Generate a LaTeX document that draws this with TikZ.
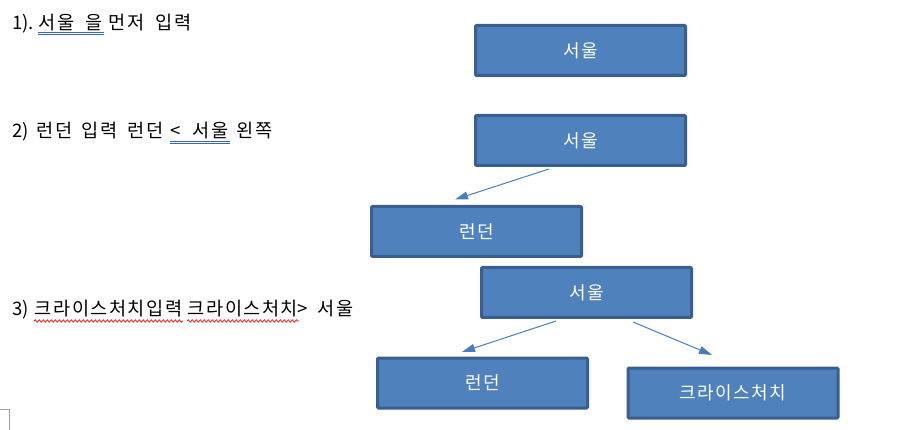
\documentclass[tikz,border=0pt]{standalone}
\usepackage{fontspec}
\setmainfont{Noto Sans CJK KR}
\usetikzlibrary{arrows.meta,decorations.pathmorphing}
\ExplSyntaxOn
\NewDocumentCommand\fw{m}{\tl_map_inline:nn{#1}{\makebox[1em][c]{##1}}}
\ExplSyntaxOff
\definecolor{boxfill}{HTML}{4F81BD}
\definecolor{boxline}{HTML}{3A5F8F}
\definecolor{arrowc}{HTML}{4A7EBB}
\definecolor{dblblue}{HTML}{3366CC}
\definecolor{wavyred}{HTML}{E8201C}
\definecolor{markgray}{HTML}{A0A0A0}
\tikzset{
  txt/.style={anchor=base west, inner sep=0pt, font=\fontsize{18.6}{22}\selectfont, text=black},
  cbox/.style={draw=boxline, line width=3pt, fill=boxfill, rounded corners=1pt,
    minimum width=210pt, minimum height=50pt, inner sep=0pt, text=white,
    font=\fontsize{18}{22}\selectfont},
  link/.style={draw=arrowc, line width=1pt, -{Triangle[length=13pt,width=8pt]}},
  dblline/.style={draw=dblblue, line width=0.9pt},
  wavy/.style={draw=wavyred, line width=0.8pt, decorate,
    decoration={snake, segment length=4pt, amplitude=1.2pt}}
}
\begin{document}
\begin{tikzpicture}[x=1pt,y=-1pt]
\useasboundingbox (0,0) rectangle (897,430);
% line 1
\node[txt] (l1a) at (12,30) {1).};
\node[txt] (l1b) at (38,30) {\fw{서울}};
\node[txt] (l1c) at (85,30) {\fw{을}};
\node[txt] (l1d) at (108,30) {\fw{먼저}};
\node[txt] (l1e) at (155,30) {\fw{입력}};
\draw[dblline] ([yshift=-2.5pt]l1b.base west) -- ([yshift=-2.5pt]l1c.base east);
\draw[dblline] ([yshift=-4.5pt]l1b.base west) -- ([yshift=-4.5pt]l1c.base east);
% line 2
\node[txt] (l2a) at (12,138) {2)};
\node[txt] (l2b) at (36,138) {\fw{런던}};
\node[txt] (l2c) at (81,138) {\fw{입력}};
\node[txt] (l2d) at (127,138) {\fw{런던}};
\node[txt] (l2e) at (170,138) {<};
\node[txt] (l2f) at (192,138) {\fw{서울}};
\node[txt] (l2g) at (236,138) {\fw{왼쪽}};
\draw[dblline] ([yshift=-3pt]l2e.base west) -- ([yshift=-3pt]l2f.base east);
\draw[dblline] ([yshift=-5pt]l2e.base west) -- ([yshift=-5pt]l2f.base east);
% line 3
\node[txt] (l3a) at (12,316) {3)};
\node[txt] (l3b) at (34,316) {\fw{크라이스처치입력}};
\node[txt] (l3c) at (187,316) {\fw{크라이스처치}};
\node[txt] (l3g) at (297,316) {>};
\node[txt] (l3d) at (317,316) {\fw{서울}};
\draw[wavy] ([yshift=-5pt]l3b.base west) -- ([yshift=-5pt]l3b.base east);
\draw[wavy] ([yshift=-5pt]l3c.base west) -- ([yshift=-5pt]l3c.base east);
% boxes
\node[cbox] (s1) at (580.5,50.5) {\fw{서울}};
\node[cbox] (s2) at (580.5,140.5) {\fw{서울}};
\node[cbox] (d1) at (476.5,231.5) {\fw{런던}};
\node[cbox] (s3) at (586.5,292.5) {\fw{서울}};
\node[cbox] (d2) at (482.5,383) {\fw{런던}};
\node[cbox] (c3) at (733,393) {\fw{크라이스처치}};
% arrows (free-floating, as in the reference)
\coordinate (a1s) at (549,169);
\coordinate (a1e) at (455,199.5);
\coordinate (a2s) at (556,321);
\coordinate (a2e) at (462,352);
\coordinate (a3s) at (633,322);
\coordinate (a3e) at (712,355);
\draw[link] (a1s) -- (a1e);
\draw[link] (a2s) -- (a2e);
\draw[link] (a3s) -- (a3e);
% page corner mark
\draw[markgray, line width=0.8pt] (0,409.5) -- (9.5,409.5) -- (9.5,430);
\end{tikzpicture}
\end{document}
